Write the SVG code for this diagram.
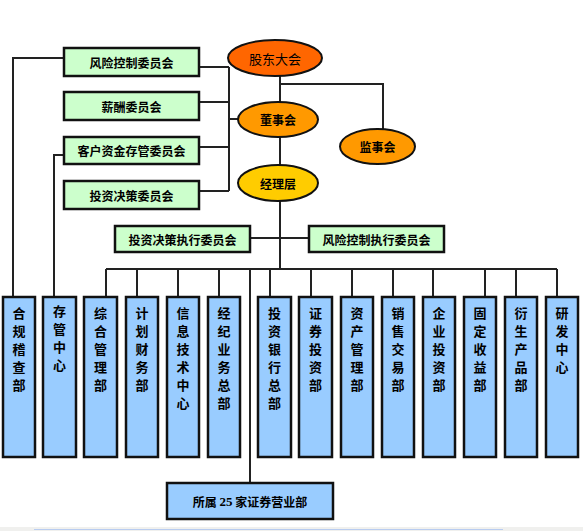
<svg xmlns="http://www.w3.org/2000/svg" width="583" height="531" viewBox="0 0 583 531">
<style>
.g rect{fill:#CCFFCC;stroke:#111;stroke-width:2.5}
.b rect{fill:#99CCFF;stroke:#111;stroke-width:2.5}
ellipse{stroke:#111;stroke-width:2}
text{font-family:"Noto Sans CJK SC","Noto Sans CJK TC",sans-serif;font-size:12px;font-weight:bold;fill:#000;text-anchor:middle;dominant-baseline:central}
.v{font-size:13px}
.n{font-family:"Liberation Serif",serif;font-size:13px}
#conn path{fill:none;stroke:#222;stroke-width:2}
</style>
<rect width="583" height="531" fill="#fff"/>
<rect x="0" y="527" width="583" height="4" fill="#f0f0ee"/>
<line x1="34" y1="529.5" x2="503" y2="529.5" stroke="#b8ccf0" stroke-width="1"/>
<g id="conn">
<path d="M64,58H13V297M64,155H54V297"/>
<path d="M199,67H229M199,102H229M199,147H229M199,191H229M229,67V191M229,119H239"/>
<path d="M280,76V102M280,84H383V129M280,137V165M280,201V269M250,238H309"/>
<path d="M106,269H557M106,269V297M137,269V297M178,269V297M219,269V297M270,269V297M311,269V297M352,269V297M393,269V297M433,269V297M485,269V297M516,269V297M557,269V297M250,269V483"/>
</g>
<g id="gudong"><ellipse cx="275" cy="58" rx="47" ry="18" fill="#FF6600"/><text x="275" y="58" style="font-weight:normal;font-size:13px">股东大会</text></g>
<g id="dongshi"><ellipse cx="278" cy="119.5" rx="40" ry="17.5" fill="#FF9900"/><text x="278" y="119.5">董事会</text></g>
<g id="jianshi"><ellipse cx="377.5" cy="146.5" rx="37.5" ry="17.5" fill="#FF9900"/><text x="377.5" y="146.5">监事会</text></g>
<g id="jingli"><ellipse cx="278" cy="183" rx="40" ry="18" fill="#FFCC00"/><text x="278" y="183">经理层</text></g>
<g id="c1" class="g"><rect x="64" y="48" width="135" height="28"/><text x="131.5" y="62">风险控制委员会</text></g>
<g id="c2" class="g"><rect x="64" y="92" width="135" height="28"/><text x="131.5" y="106">薪酬委员会</text></g>
<g id="c3" class="g"><rect x="64" y="137" width="135" height="27"/><text x="131.5" y="150.5">客户资金存管委员会</text></g>
<g id="c4" class="g"><rect x="64" y="181" width="135" height="28"/><text x="131.5" y="195">投资决策委员会</text></g>
<g id="e1" class="g"><rect x="115" y="226" width="135" height="26"/><text x="182.5" y="239">投资决策执行委员会</text></g>
<g id="e2" class="g"><rect x="309" y="226" width="135" height="26"/><text x="376.5" y="239">风险控制执行委员会</text></g>
<g id="d1" class="b"><rect x="3" y="297" width="32" height="160"/><text class="v" x="19" y="312">合</text><text class="v" x="19" y="330">规</text><text class="v" x="19" y="348">稽</text><text class="v" x="19" y="366">查</text><text class="v" x="19" y="384">部</text></g>
<g id="d2" class="b"><rect x="43" y="297" width="33" height="160"/><text class="v" x="59.5" y="310">存</text><text class="v" x="59.5" y="328">管</text><text class="v" x="59.5" y="346">中</text><text class="v" x="59.5" y="364">心</text></g>
<g id="d3" class="b"><rect x="84" y="297" width="33" height="160"/><text class="v" x="100.5" y="312">综</text><text class="v" x="100.5" y="330">合</text><text class="v" x="100.5" y="348">管</text><text class="v" x="100.5" y="366">理</text><text class="v" x="100.5" y="384">部</text></g>
<g id="d4" class="b"><rect x="126" y="297" width="32" height="160"/><text class="v" x="142" y="312">计</text><text class="v" x="142" y="330">划</text><text class="v" x="142" y="348">财</text><text class="v" x="142" y="366">务</text><text class="v" x="142" y="384">部</text></g>
<g id="d5" class="b"><rect x="167" y="297" width="32" height="160"/><text class="v" x="183" y="312">信</text><text class="v" x="183" y="330">息</text><text class="v" x="183" y="348">技</text><text class="v" x="183" y="366">术</text><text class="v" x="183" y="384">中</text><text class="v" x="183" y="402">心</text></g>
<g id="d6" class="b"><rect x="208" y="297" width="32" height="160"/><text class="v" x="224" y="312">经</text><text class="v" x="224" y="330">纪</text><text class="v" x="224" y="348">业</text><text class="v" x="224" y="366">务</text><text class="v" x="224" y="384">总</text><text class="v" x="224" y="402">部</text></g>
<g id="d7" class="b"><rect x="258" y="297" width="33" height="160"/><text class="v" x="274.5" y="312">投</text><text class="v" x="274.5" y="330">资</text><text class="v" x="274.5" y="348">银</text><text class="v" x="274.5" y="366">行</text><text class="v" x="274.5" y="384">总</text><text class="v" x="274.5" y="402">部</text></g>
<g id="d8" class="b"><rect x="299" y="297" width="33" height="160"/><text class="v" x="315.5" y="312">证</text><text class="v" x="315.5" y="330">券</text><text class="v" x="315.5" y="348">投</text><text class="v" x="315.5" y="366">资</text><text class="v" x="315.5" y="384">部</text></g>
<g id="d9" class="b"><rect x="341" y="297" width="32" height="160"/><text class="v" x="357" y="312">资</text><text class="v" x="357" y="330">产</text><text class="v" x="357" y="348">管</text><text class="v" x="357" y="366">理</text><text class="v" x="357" y="384">部</text></g>
<g id="d10" class="b"><rect x="382" y="297" width="32" height="160"/><text class="v" x="398" y="312">销</text><text class="v" x="398" y="330">售</text><text class="v" x="398" y="348">交</text><text class="v" x="398" y="366">易</text><text class="v" x="398" y="384">部</text></g>
<g id="d11" class="b"><rect x="423" y="297" width="32" height="160"/><text class="v" x="439" y="312">企</text><text class="v" x="439" y="330">业</text><text class="v" x="439" y="348">投</text><text class="v" x="439" y="366">资</text><text class="v" x="439" y="384">部</text></g>
<g id="d12" class="b"><rect x="464" y="297" width="32" height="160"/><text class="v" x="480" y="312">固</text><text class="v" x="480" y="330">定</text><text class="v" x="480" y="348">收</text><text class="v" x="480" y="366">益</text><text class="v" x="480" y="384">部</text></g>
<g id="d13" class="b"><rect x="505" y="297" width="32" height="160"/><text class="v" x="521" y="312">衍</text><text class="v" x="521" y="330">生</text><text class="v" x="521" y="348">产</text><text class="v" x="521" y="366">品</text><text class="v" x="521" y="384">部</text></g>
<g id="d14" class="b"><rect x="546" y="297" width="32" height="160"/><text class="v" x="562" y="312">研</text><text class="v" x="562" y="330">发</text><text class="v" x="562" y="348">中</text><text class="v" x="562" y="366">心</text></g>
<g id="yyb" class="b"><rect x="167" y="483" width="166" height="36"/><text x="250" y="501">所属 <tspan class="n">25</tspan> 家证券营业部</text></g>
</svg>
